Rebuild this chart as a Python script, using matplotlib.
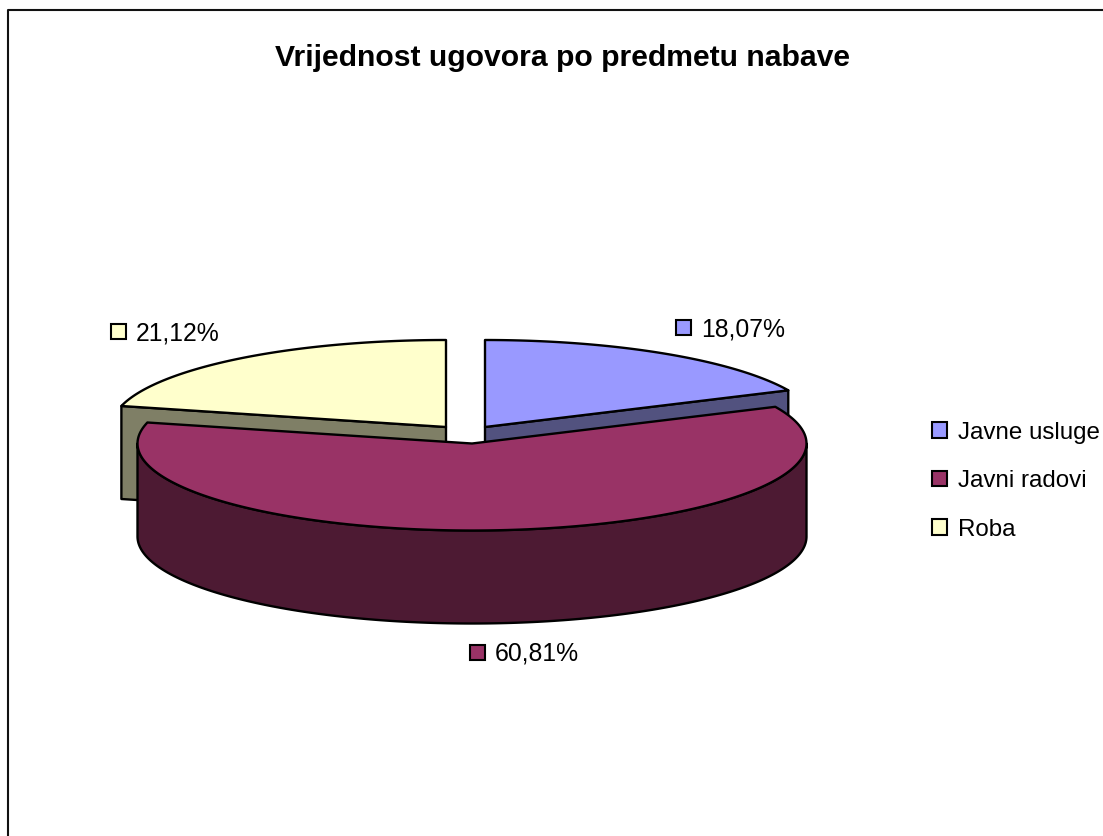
import numpy as np
import matplotlib
matplotlib.use("Agg")
import matplotlib.pyplot as plt
from matplotlib.patches import Patch, Rectangle, Polygon

plt.rcParams['font.family'] = ['Liberation Sans', 'DejaVu Sans']

title = "Vrijednost ugovora po predmetu nabave"
categories = ["Javne usluge", "Javni radovi", "Roba"]
values = [18.07, 60.81, 21.12]
value_labels = ["18,07%", "60,81%", "21,12%"]
top_colors = ["#9999FF", "#993366", "#FFFFCC"]
side_colors = ["#52527F", "#4D1A33", "#7F7F66"]

W, H = 1103, 836
fig = plt.figure(figsize=(W / 100, H / 100), dpi=100, facecolor="white")
ax = fig.add_axes([0, 0, 1, 1])
ax.set_xlim(0, W)
ax.set_ylim(H, 0)
ax.axis("off")

LW = 1.7
RX, RY, DEPTH = 334.5, 87.0, 93.0
centers = [(485, 427), (472, 443.5), (446, 427)]
label_pos = [(676, 320), (470, 645), (111, 324)]

edges = np.cumsum([0] + values) / sum(values) * 2 * np.pi


def rim(cx, cy, a):
    return cx + RX * np.sin(a), cy - RY * np.cos(a)


def arc(cx, cy, a0, a1):
    t = np.linspace(a0, a1, 200)
    return np.column_stack(rim(cx, cy, t))


def shape(pts, color, z):
    ax.add_patch(Polygon(pts, closed=True, facecolor=color, edgecolor="black",
                         linewidth=LW, joinstyle="round", zorder=z))


# frame (left and top only reach the picture edge)
ax.plot([7.5, 7.5, W], [H, 9.5, 9.5], color="#111111", lw=1.5, zorder=1)

# radial cut faces of the two rear slices
cx, cy = centers[0]
x, y = rim(cx, cy, edges[1])
shape([(cx, cy), (x, y), (x, y + DEPTH), (cx, cy + DEPTH)], side_colors[0], 2)
cx, cy = centers[2]
x, y = rim(cx, cy, edges[2])
shape([(cx, cy), (x, y), (x, y + DEPTH), (cx, cy + DEPTH)], side_colors[2], 2)

# tops of the two rear slices
for i in (0, 2):
    cx, cy = centers[i]
    shape(np.vstack([[(cx, cy)], arc(cx, cy, edges[i], edges[i + 1])]), top_colors[i], 3)

# front slice: outer wall and top
cx, cy = centers[1]
front = arc(cx, cy, np.pi / 2, 3 * np.pi / 2)
shape(np.vstack([front, (front + [0, DEPTH])[::-1]]), side_colors[1], 4)
shape(np.vstack([[(cx, cy)], arc(cx, cy, edges[1], edges[2])]), top_colors[1], 5)

# data labels
for (lx, ly), txt, col in zip(label_pos, value_labels, top_colors):
    ax.add_patch(Rectangle((lx, ly), 15, 15, facecolor=col, edgecolor="black",
                           linewidth=1.5, zorder=6))
    ax.text(lx + 25, ly + 9, txt, fontsize=17.8, va="center", ha="left",
            color="black", zorder=6)

ax.text(562.5, 58.5, title, fontsize=21.7, fontweight="bold", ha="center",
        va="center", color="black")

handles = [Patch(facecolor=c, edgecolor="black", linewidth=1.5) for c in top_colors]
ax.legend(handles, categories, loc="upper left", bbox_to_anchor=(932 / W, 1 - 421.5 / H),
          frameon=False, fontsize=17.4, handlelength=0.62, handleheight=0.62,
          handletextpad=0.45, labelspacing=1.1, borderpad=0, borderaxespad=0)

fig.savefig("out.png", dpi=100)
